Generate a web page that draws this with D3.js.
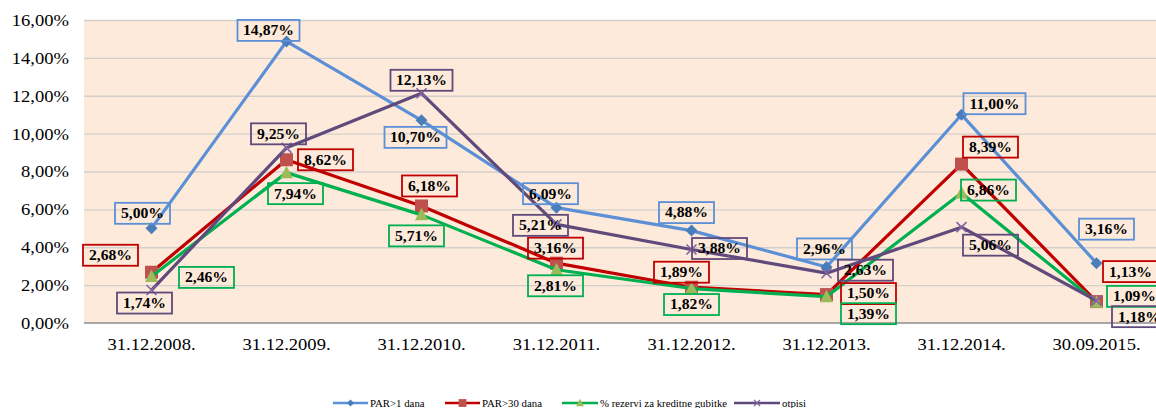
<!DOCTYPE html>
<html><head><meta charset="utf-8">
<script src="https://cdn.jsdelivr.net/npm/d3@7"></script>
<style>html,body{margin:0;padding:0;background:#fff;}svg{display:block;}</style>
</head><body>
<svg id="c" width="1156" height="408"></svg>
<script>
const categories = ["31.12.2008.","31.12.2009.","31.12.2010.","31.12.2011.","31.12.2012.","31.12.2013.","31.12.2014.","30.09.2015."];
const par1 = [5.00,14.87,10.70,6.09,4.88,2.96,11.00,3.16];
const par30 = [2.68,8.62,6.18,3.16,1.89,1.50,8.39,1.13];
const rezerve = [2.46,7.94,5.71,2.81,1.82,1.39,6.86,1.09];
const otpisi = [1.74,9.25,12.13,5.21,3.88,2.63,5.06,1.18];
const seriesNames = ["PAR>1 dana","PAR>30 dana","% rezervi za kreditne gubitke","otpisi"];
const yTicks = [0,2,4,6,8,10,12,14,16];

// label offsets (layout only): [dx, dy] of label box center from point
const labelOffsets = [
  [[-9,-15],[-18,-11],[-6,17],[-6,-14],[-5,-18],[-2,-18],[33,-11],[10,-34]],
  [[-41,-17],[39,0],[8,-20],[-1,-15],[-10,-15],[42,-1],[29,-17],[34,-30]],
  [[55,1],[9,21],[-5,21],[-1,16],[0,16],[42,17],[27,-3],[38,-6]],
  [[-7,13],[-8,-14],[0,-13],[-16,1],[28,-1],[39,-3],[29,18],[43,16]]
];

const styles = [
  {line:"#5B8FD6", marker:"#4A7EBB", box:"#5B8FD6", shape:"diamond"},
  {line:"#C00000", marker:"#C0504D", box:"#C00000", shape:"square"},
  {line:"#00B050", marker:"#9BBB59", box:"#00B050", shape:"triangle"},
  {line:"#604A7B", marker:"#8064A2", box:"#604A7B", shape:"x"}
];
const seriesData = [par1, par30, rezerve, otpisi];

const svg = d3.select("#c");
const pL = 84, pR = 1164, pT = 20, pB = 323;
const x = d3.scaleBand().domain(categories).range([pL, pR]);
const cx = d => x(d) + x.bandwidth()/2;
const y = d3.scaleLinear().domain([0,16]).range([pB, pT]);
const SX = 1.16;
const fmt = v => v.toFixed(2).replace(".", ",") + "%";

// plot background
svg.append("rect").attr("x", pL).attr("y", pT).attr("width", 1156-pL).attr("height", pB-pT).attr("fill", "#FDEADA");

// gridlines
const yAxis = d3.axisLeft(y).tickValues(yTicks).tickSize(-(1156-pL)).tickFormat(d => fmt(d));
const ga = svg.append("g").attr("transform", `translate(${pL},0)`).call(yAxis);
ga.select(".domain").remove();
ga.selectAll(".tick line").attr("stroke", "#D3CFCB").attr("stroke-width", 1.3);
ga.selectAll(".tick text").remove();
ga.selectAll(".tick").filter(d => d === 0).select("line").remove();
ga.selectAll(".tick").each(function(d){
  d3.select(this).append("text")
    .attr("transform", `translate(-15,0) scale(${SX},1)`)
    .attr("text-anchor","end").attr("dy","0.34em")
    .attr("font-family","Liberation Serif, Times New Roman, serif").attr("font-size",16)
    .attr("fill","#000").text(fmt(d));
});

// x axis
const xAxis = d3.axisBottom(x).tickSize(0).tickFormat("");
const gx = svg.append("g").attr("transform", `translate(0,${pB})`).call(xAxis);
gx.select(".domain").remove();
svg.append("line").attr("x1", pL).attr("x2", 1156).attr("y1", pB).attr("y2", pB).attr("stroke", "#8C8C8C").attr("stroke-width", 1.3);
gx.selectAll(".tick").each(function(d){
  d3.select(this).append("text")
    .attr("transform", `translate(0,27) scale(${SX},1)`)
    .attr("text-anchor","middle")
    .attr("font-family","Liberation Serif, Times New Roman, serif").attr("font-size",16)
    .attr("fill","#000").text(d);
});

function markerPath(shape) {
  if (shape === "diamond") return "M0,-6L6,0L0,6L-6,0Z";
  if (shape === "square") return "M-6.5,-6.5H6.5V6.5H-6.5Z";
  if (shape === "triangle") return "M0,-7L6.5,5.5H-6.5Z";
  return "M-5,-5L5,5M-5,5L5,-5";
}

const line = d3.line().x((d,i) => cx(categories[i])).y(d => y(d));

seriesData.forEach((vals, si) => {
  const st = styles[si];
  const g = svg.append("g");
  g.append("path").datum(vals).attr("d", line).attr("fill","none")
    .attr("stroke", st.line).attr("stroke-width", 3.2).attr("stroke-linejoin","round");
  g.selectAll("path.m").data(vals).join("path").attr("class","m")
    .attr("transform", (d,i) => `translate(${cx(categories[i])},${y(d)})`)
    .attr("d", markerPath(st.shape))
    .attr("fill", st.shape === "x" ? "none" : st.marker)
    .attr("stroke", st.shape === "x" ? st.marker : "none")
    .attr("stroke-width", 1.6);
});

// labels
seriesData.forEach((vals, si) => {
  const st = styles[si];
  const g = svg.append("g");
  vals.forEach((v, i) => {
    const [dx, dy] = labelOffsets[si][i];
    const px = cx(categories[i]) + dx, py = y(v) + dy;
    const txt = fmt(v);
    const w = txt.length >= 6 ? 62 : 55, h = 21;
    g.append("rect").attr("x", px - w/2).attr("y", py - h/2).attr("width", w).attr("height", h)
      .attr("fill", "none").attr("stroke", st.box).attr("stroke-width", 1.8);
    g.append("text").attr("transform", `translate(${px},${py}) scale(1.12,1)`)
      .attr("text-anchor","middle").attr("dy","0.35em")
      .attr("font-family","Liberation Serif, Times New Roman, serif").attr("font-weight","bold")
      .attr("font-size",14).attr("fill","#000").text(txt);
  });
});

// legend
const legendX = [333, 445, 562, 734];
const legendW = [35, 35, 36, 46];
const lg = svg.append("g");
seriesNames.forEach((name, si) => {
  const st = styles[si];
  const x0 = legendX[si], w = legendW[si], ly = 403;
  lg.append("line").attr("x1", x0).attr("x2", x0 + w).attr("y1", ly).attr("y2", ly)
    .attr("stroke", st.line).attr("stroke-width", 2.6);
  lg.append("path").attr("transform", `translate(${x0 + w/2},${ly}) scale(0.6)`)
    .attr("d", markerPath(st.shape))
    .attr("fill", st.shape === "x" ? "none" : st.marker)
    .attr("stroke", st.shape === "x" ? st.marker : "none").attr("stroke-width", 2.2);
  lg.append("text").attr("transform", `translate(${x0 + w + 2},${ly + 4}) scale(1.03,1)`)
    .attr("font-family","Liberation Serif, Times New Roman, serif").attr("font-size",10.5)
    .attr("fill","#000").text(name);
});
</script>
</body></html>
